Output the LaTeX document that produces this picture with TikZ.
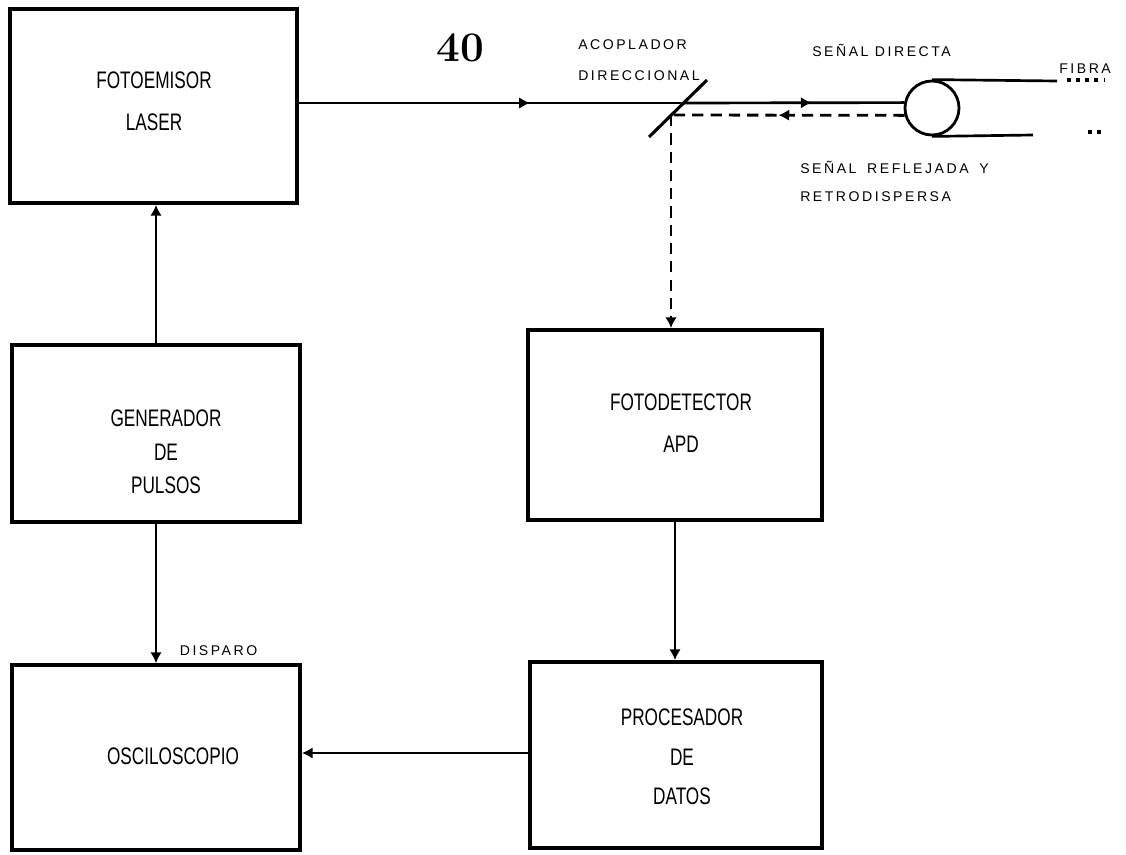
\documentclass[tikz,border=0pt]{standalone}
\usepackage{fontspec}
\newfontfamily\cajafont[FakeStretch=0.72]{Liberation Sans}
\newfontfamily\rotulofont[LetterSpace=18]{Liberation Sans}
\usepackage{tikz}
\usetikzlibrary{calc, positioning, arrows.meta, decorations.markings}

\begin{document}
\begin{tikzpicture}[x=0.025cm, y=-0.025cm, >={Latex[length=2.7mm, width=2.9mm]},
    caja/.style={draw, line width=2.7pt},
    texto/.style={font=\cajafont\fontsize{17}{28}\selectfont, align=center},
    rotulo/.style={anchor=west, inner sep=0pt, font=\rotulofont\fontsize{10}{12}\selectfont},
    flecha/.style={line width=1.9pt},
    trazos/.style={line width=2pt, dash pattern=on 8pt off 5pt},
    puntos/.style={line width=2.5pt, dash pattern=on 2.5pt off 4pt},
    medio/.style={postaction={decorate}, decoration={markings,
        mark=at position #1 with {\arrow{>}}}}]
    \useasboundingbox (0,0) rectangle (1126,855);
    % 1. Bloques
    \node[caja, minimum width=7.175cm, minimum height=4.85cm] (emisor) at (153.5,106) {};
    \node[caja, minimum width=7.2cm, minimum height=4.425cm] (generador) at (156,433.5) {};
    \node[caja, minimum width=7.35cm, minimum height=4.75cm] (detector) at (675,425) {};
    \node[caja, minimum width=7.3cm, minimum height=4.65cm] (procesador) at (676,755) {};
    \node[caja, minimum width=7.2cm, minimum height=4.625cm] (osciloscopio) at (156,757.5) {};
    % textos de los bloques
    \node[texto, font=\cajafont\fontsize{17}{30}\selectfont] (emisor-texto) at (154,101) {FOTOEMISOR\\LASER};
    \node[texto, font=\cajafont\fontsize{17}{24}\selectfont] (gen-texto) at (166,452) {GENERADOR\\DE\\PULSOS};
    \node[texto, font=\cajafont\fontsize{17}{30}\selectfont] (det-texto) at (681,423) {FOTODETECTOR\\APD};
    \node[texto] (proc-texto) at (682,757) {PROCESADOR\\DE\\DATOS};
    \node[texto] (osc-texto) at (173,756) {OSCILOSCOPIO};

    % 2. Acoplador direccional y fibra
    \coordinate (acoplador) at (684,103);
    \coordinate (acopladorb) at (671,115);
    \draw[line width=2.2pt] (649,137) -- (707,80);
    \node[draw, circle, minimum size=1.35cm, inner sep=0pt, line width=2pt] (fibra) at (932,108) {};
    \coordinate (fibra-a) at (1057,81);
    \coordinate (fibra-b) at (1033,135);
    \draw[line width=1.9pt] (fibra.north) -- (fibra-a);
    \draw[line width=1.9pt] (fibra.south) -- (fibra-b);
    \draw[puntos] (1067,80) -- (1104,80);
    \draw[puntos] (1088,132) -- (1104,132);

    % 3. Conexiones
    \draw[flecha, medio=0.6] (emisor.east |- acoplador) -- (acoplador);
    \draw[flecha, medio=0.58] (acoplador) -- (fibra.169);
    \draw[trazos, medio=0.54] (fibra.195) -- (acopladorb);
    \draw[trazos, ->] (acopladorb) -- (acopladorb |- detector.north);
    \draw[flecha, ->] (generador.north) -- (generador.north |- emisor.south);
    \draw[flecha, ->] (generador.south) -- (generador.south |- osciloscopio.north)
        node[rotulo, above right=4pt and 16pt] {DISPARO};
    \draw[flecha, ->] (detector.south) -- (detector.south |- procesador.north);
    \draw[flecha, ->] ([yshift=0.05cm]procesador.west) -- ([yshift=0.05cm]procesador.west -| osciloscopio.east);

    % 4. Rotulos
    \node[font=\bfseries\fontsize{30}{30}\selectfont] (numero) at (460,48) {40};
    \node[rotulo] (acop-1) at (578,45) {ACOPLADOR};
    \node[rotulo] (acop-2) at (578,76) {DIRECCIONAL};
    \node[rotulo] (directa) at (812,50) {SEÑAL DIRECTA};
    \node[rotulo] (fibra-rot) at (1059,69) {FIBRA};
    \node[rotulo] (reflejada-1) at (800,167) {SEÑAL\hspace{3pt} REFLEJADA\hspace{3pt} Y};
    \node[rotulo] (reflejada-2) at (800,197) {RETRODISPERSA};
\end{tikzpicture}
\end{document}
